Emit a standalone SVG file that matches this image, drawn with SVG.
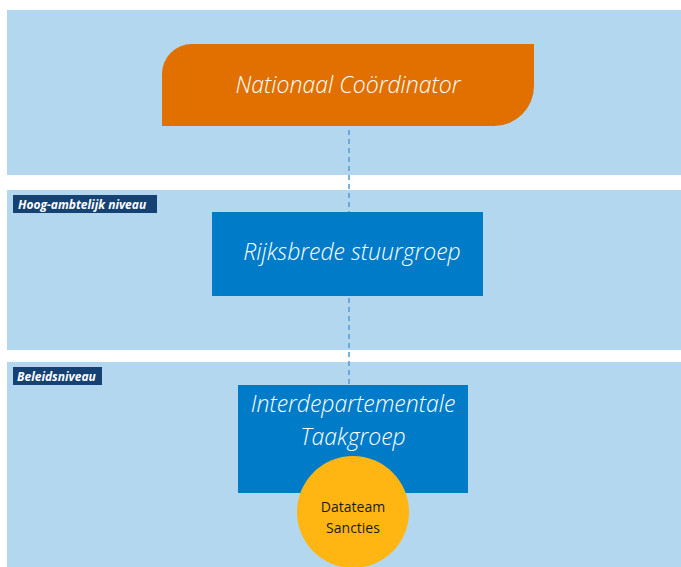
<svg xmlns="http://www.w3.org/2000/svg" width="681" height="567" viewBox="0 0 681 567">
<style>
.band{fill:#b3d7ee}
.lbl{fill:#154273}
.lbltxt{font-family:"Open Sans",sans-serif;font-style:italic;font-weight:700;font-size:12px;fill:#ffffff}
.big{font-family:"Open Sans",sans-serif;font-style:italic;font-weight:300;font-size:23px;fill:#ffffff;text-anchor:middle}
.small{font-family:"Open Sans",sans-serif;font-size:14px;fill:#1a1a1a;text-anchor:middle}
.dash{stroke:#5a9fd4;stroke-width:1.6;stroke-dasharray:5,4;fill:none}
</style>
<rect width="681" height="567" fill="#ffffff"/>
<g id="bands">
<rect class="band" x="7" y="10" width="674" height="165"/>
<rect class="band" x="7" y="190" width="674" height="160"/>
<rect class="band" x="7" y="362" width="674" height="205"/>
</g>
<g id="connectors">
<line class="dash" x1="349" y1="130" x2="349" y2="212"/>
<line class="dash" x1="349" y1="298" x2="349" y2="385"/>
</g>
<g id="label-hoog">
<rect class="lbl" x="13" y="195" width="144" height="18"/>
<text class="lbltxt" x="18" y="208.5">Hoog-ambtelijk niveau</text>
</g>
<g id="label-beleid">
<rect class="lbl" x="13" y="367" width="89" height="18"/>
<text class="lbltxt" x="17" y="380.5">Beleidsniveau</text>
</g>
<g id="nationaal-coordinator">
<path d="M192 44 H534 V86 A40 40 0 0 1 494 126 H162 V74 A30 30 0 0 1 192 44 Z" fill="#e17000"/>
<text class="big" x="348" y="93">Nationaal Coördinator</text>
</g>
<g id="rijksbrede-stuurgroep">
<rect x="212" y="212" width="271" height="84" fill="#007bc7"/>
<text class="big" x="352" y="260">Rijksbrede stuurgroep</text>
</g>
<g id="interdepartementale-taakgroep">
<rect x="238" y="385" width="230" height="108" fill="#007bc7"/>
<text class="big" x="353" y="412">Interdepartementale</text>
<text class="big" x="353" y="445">Taakgroep</text>
</g>
<g id="datateam-sancties">
<ellipse cx="353" cy="512" rx="56" ry="56" fill="#ffb612"/>
<text class="small" x="353" y="512">Datateam</text>
<text class="small" x="353" y="533">Sancties</text>
</g>
</svg>
